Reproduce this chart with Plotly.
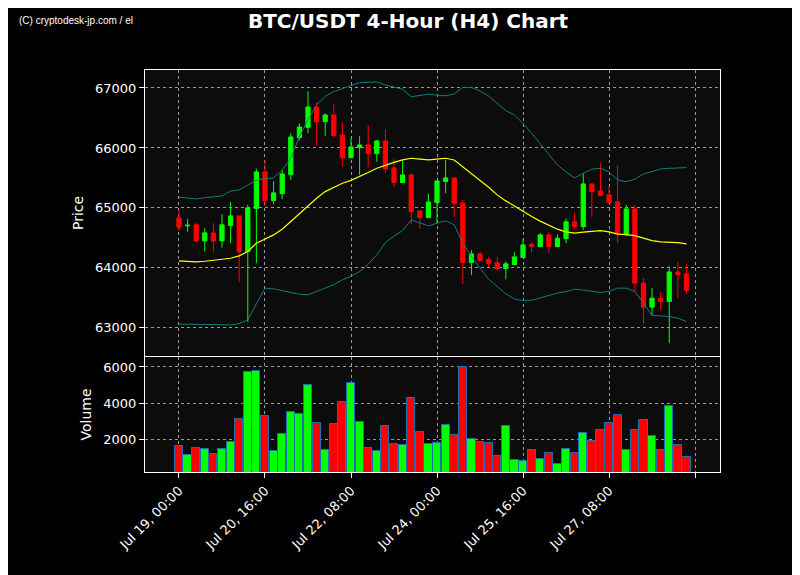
import pandas as pd
import plotly.graph_objects as go
from plotly.subplots import make_subplots

# 60 candles, 4h each, starting Jul 19 00:00
times = pd.date_range("2024-07-19 00:00", periods=60, freq="4h")

opens = [64833, 64700, 64717, 64450, 64583, 64450, 64705, 64867, 64272, 64990,
         65600, 65122, 65238, 65555, 66172, 66345, 66683, 66438, 66550, 66217,
         65838, 66005, 66050, 65905, 66117, 65667, 65422, 65550, 64950, 64838,
         65090, 65440, 65500, 65083, 64088, 64233, 64138, 64088, 63988, 64055,
         64172, 64388, 64355, 64550, 64355, 64488, 64767, 64688, 65400, 65283,
         65217, 65100, 64555, 64983, 63745, 63345, 63495, 63440, 63933, 63900]
highs = [64967, 64812, 64745, 64662, 64745, 64895, 65095, 64867, 65055, 65655,
         65800, 65445, 65633, 66245, 66412, 66945, 66762, 66578, 66728, 66417,
         66162, 66195, 66378, 66133, 66312, 65812, 65788, 65578, 64950, 65233,
         65450, 65800, 65500, 65133, 64295, 64267, 64183, 64188, 64112, 64262,
         64483, 64428, 64580, 64593, 64560, 64828, 64922, 65578, 65400, 65745,
         65350, 65705, 65050, 65050, 63828, 63662, 63595, 64022, 64095, 64062]
lows = [64617, 64605, 64440, 64272, 64272, 64338, 64412, 63762, 63095, 64078,
        65022, 65062, 65145, 65467, 66128, 66245, 66045, 66200, 66178, 65688,
        65828, 65550, 65680, 65772, 65578, 65345, 65422, 64728, 64650, 64838,
        64745, 65245, 64850, 63728, 63878, 64122, 64015, 63955, 63812, 64055,
        64172, 64262, 64340, 64250, 64340, 64412, 64650, 64633, 64850, 65205,
        65088, 64412, 64530, 63605, 63067, 63205, 63300, 62745, 63495, 63562]
closes = [64683, 64710, 64450, 64583, 64450, 64717, 64867, 64272, 65000, 65600,
          65122, 65250, 65567, 66183, 66350, 66683, 66438, 66550, 66205, 65838,
          66017, 66050, 65905, 66117, 65650, 65422, 65550, 64938, 64838, 65100,
          65450, 65500, 65072, 64088, 64233, 64122, 64072, 63988, 64067, 64183,
          64383, 64355, 64550, 64355, 64495, 64767, 64688, 65400, 65272, 65205,
          65088, 64567, 64983, 63745, 63345, 63495, 63440, 63933, 63888, 63622]
volume = [1630, 1130, 1500, 1444, 1185, 1444, 1833, 3111, 5722, 5778,
          3296, 1333, 2278, 3500, 3389, 5000, 2889, 1389, 2833, 4056,
          5111, 2944, 1500, 1333, 2741, 1741, 1667, 4278, 2389, 1722,
          1778, 2778, 2222, 6000, 2000, 1833, 1778, 1074, 2722, 889,
          833, 1389, 944, 1222, 667, 1444, 1222, 2333, 1889, 2500,
          2889, 3333, 1426, 2500, 3056, 2167, 1389, 3833, 1667, 1000]

# indicator lines as drawn (MA20 and Bollinger bands)
ma = [64117, 64110, 64100, 64110, 64125, 64133, 64160, 64200, 64272, 64412,
      64480, 64550, 64645, 64772, 64912, 65033, 65162, 65272, 65345, 65412,
      65460, 65522, 65590, 65662, 65717, 65760, 65800, 65828, 65815, 65800,
      65815, 65828, 65800, 65688, 65578, 65467, 65345, 65217, 65117, 65033,
      64938, 64855, 64780, 64710, 64645, 64600, 64578, 64595, 64610, 64622,
      64600, 64562, 64555, 64538, 64495, 64455, 64433, 64425, 64422, 64400]
upper = [65180, 65170, 65150, 65170, 65190, 65200, 65280, 65300, 65380, 65460,
         65490, 65500, 65630, 65830, 66190, 66470, 66720, 66860, 66940, 66990,
         67040, 67090, 67095, 67100, 67050, 67010, 66980, 66855, 66870, 66895,
         66880, 66870, 66900, 67010, 67010, 66950, 66867, 66745, 66622, 66550,
         66410, 66245, 66070, 65880, 65717, 65600, 65500, 65578, 65645, 65662,
         65600, 65467, 65438, 65478, 65567, 65605, 65650, 65660, 65660, 65672]
lower = [63062, 63062, 63062, 63062, 63060, 63058, 63050, 63070, 63133, 63400,
         63662, 63650, 63620, 63590, 63560, 63550, 63600, 63662, 63720, 63800,
         63860, 63938, 64060, 64217, 64422, 64530, 64622, 64800, 64750, 64700,
         64745, 64783, 64717, 64412, 64188, 63990, 63812, 63690, 63567, 63478,
         63455, 63460, 63500, 63550, 63580, 63605, 63645, 63630, 63610, 63588,
         63610, 63662, 63662, 63605, 63412, 63205, 63200, 63188, 63162, 63105]

tick_vals = pd.date_range("2024-07-19 00:00", periods=7, freq="40h")
tick_text = ["Jul 19, 00:00", "Jul 20, 16:00", "Jul 22, 08:00", "Jul 24, 00:00",
             "Jul 25, 16:00", "Jul 27, 08:00", ""]

fig = make_subplots(rows=2, cols=1, shared_xaxes=True, vertical_spacing=0)

fig.add_trace(go.Scatter(x=times, y=upper, mode="lines", line=dict(color="#0f7f7f", width=1),
                         showlegend=False), row=1, col=1)
fig.add_trace(go.Scatter(x=times, y=lower, mode="lines", line=dict(color="#0f7f7f", width=1),
                         showlegend=False), row=1, col=1)
fig.add_trace(go.Scatter(x=times, y=ma, mode="lines", line=dict(color="#ffff00", width=1.2),
                         showlegend=False), row=1, col=1)
fig.add_trace(go.Candlestick(x=times, open=opens, high=highs, low=lows, close=closes,
                             increasing=dict(line=dict(color="#00ff00", width=1), fillcolor="#00ff00"),
                             decreasing=dict(line=dict(color="#ff0000", width=1), fillcolor="#ff0000"),
                             whiskerwidth=0, showlegend=False), row=1, col=1)

bar_colors = ["#00ff00" if c >= o else "#ff0000" for o, c in zip(opens, closes)]
fig.add_trace(go.Bar(x=times, y=volume, marker=dict(color=bar_colors, line=dict(color="#1f6fb4", width=1)),
                     width=4 * 3600 * 1000 * 0.95, showlegend=False), row=2, col=1)

axis_style = dict(showline=True, linecolor="white", linewidth=1, mirror=True,
                  gridcolor="#9a9a9a", griddash="dot", gridwidth=1,
                  tickfont=dict(color="white", size=13), ticks="outside", tickcolor="white",
                  zeroline=False)

fig.update_layout(
    width=800, height=575,
    paper_bgcolor="black", plot_bgcolor="#0c0c0c",
    font=dict(family="DejaVu Sans", color="white"),
    margin=dict(l=137, r=88, t=62, b=111),
    title=dict(text="<b>BTC/USDT 4-Hour (H4) Chart</b>", x=0.5, xanchor="center",
               y=0.99, yanchor="top", font=dict(size=20, color="white")),
    bargap=0,
)
fig.update_xaxes(**axis_style, rangeslider_visible=False,
                 range=[pd.Timestamp("2024-07-19 00:00") - pd.Timedelta(hours=15.8),
                        pd.Timestamp("2024-07-19 00:00") + pd.Timedelta(hours=251.6)],
                 tickvals=tick_vals, ticktext=tick_text, tickangle=-45)
fig.update_xaxes(showticklabels=False, ticks="", row=1, col=1)
fig.update_yaxes(**axis_style, tickformat="d")
fig.update_yaxes(domain=[0.289, 1], range=[62533, 67300], tickvals=[63000, 64000, 65000, 66000, 67000],
                 title=dict(text="Price", font=dict(size=14, color="white"), standoff=8), row=1, col=1)
fig.update_yaxes(domain=[0, 0.286], range=[200, 6550], tickvals=[2000, 4000, 6000],
                 title=dict(text="Volume", font=dict(size=14, color="white"), standoff=8), row=2, col=1)

fig.add_annotation(text="(C) cryptodesk-jp.com / el", xref="paper", yref="paper",
                   x=-0.223, y=1.124, xanchor="left", yanchor="middle", showarrow=False,
                   font=dict(family="Liberation Sans", size=10, color="white"))

fig.write_html("out.html")
